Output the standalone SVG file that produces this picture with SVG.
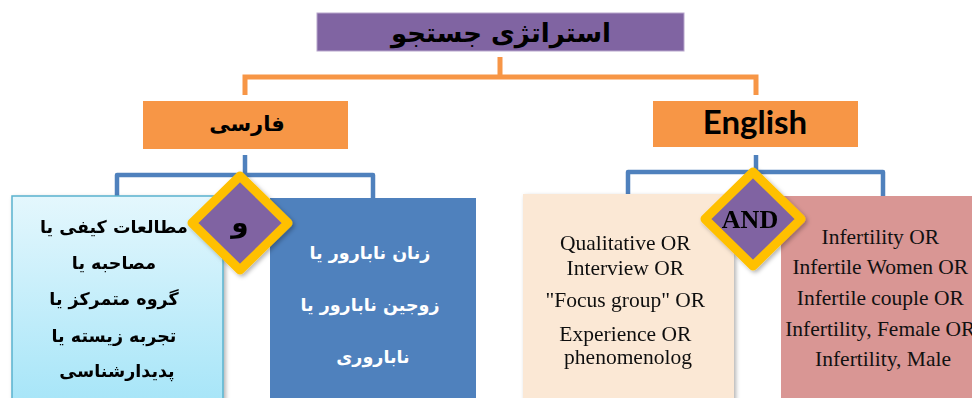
<svg xmlns="http://www.w3.org/2000/svg" width="972" height="398" viewBox="0 0 972 398">
<style>
.ar{font-family:"DejaVu Sans","Noto Sans",sans-serif;font-weight:bold;text-anchor:middle}
.en{font-family:"Liberation Serif","Times New Roman",serif;text-anchor:middle;fill:#111}
.orange{fill:none;stroke:#F79646;stroke-width:5}
.blue{fill:none;stroke:#4F81BD;stroke-width:4.5;stroke-linejoin:round}
.dia{fill:#8064A2;stroke:#FFC000;stroke-width:9;stroke-linejoin:round}
</style>
<defs>
<linearGradient id="lb" x1="0" y1="0" x2="0" y2="1">
<stop offset="0" stop-color="#E4F7FD"/>
<stop offset="1" stop-color="#A6E5F8"/>
</linearGradient>
<filter id="sh" x="-20%" y="-20%" width="140%" height="140%">
<feDropShadow dx="2" dy="2" stdDeviation="2" flood-color="#000" flood-opacity="0.3"/>
</filter>
</defs>
<g id="connectors">
<path class="orange" d="M500 57V77M245 95V77H756V95"/>
<path class="blue" d="M245 155V175M117 198V175H373V198"/>
<path class="blue" d="M756 155V172M628 196V172H883V196"/>
</g>
<g id="title">
<rect x="317" y="13" width="367" height="38" fill="#8064A2" stroke="#B7A6CC" stroke-width="1"/>
<text class="ar" x="501" y="42" font-size="26" fill="#000">استراتژی جستجو</text>
</g>
<g id="farsi">
<rect x="143" y="101" width="205" height="48" fill="#F79646"/>
<text class="ar" x="247" y="131" font-size="21" fill="#000">فارسی</text>
</g>
<g id="english">
<rect x="653" y="101" width="205" height="46" fill="#F79646"/>
<text x="755" y="134" font-family="Lato,'Open Sans',sans-serif" font-weight="bold" font-size="33" text-anchor="middle" fill="#000">English</text>
</g>
<g id="fa-qual" filter="url(#sh)">
<rect x="12" y="196" width="211" height="210" fill="url(#lb)" stroke="#5AB3CE" stroke-width="1.5"/>
<text class="ar" font-size="17.5" fill="#000">
<tspan x="117" y="233">مطالعات کیفی یا</tspan>
<tspan x="117" y="269">مصاحبه یا</tspan>
<tspan x="117" y="305">گروه متمرکز یا</tspan>
<tspan x="117" y="342">تجربه زیسته یا</tspan>
<tspan x="117" y="377">پدیدارشناسی</tspan>
</text>
</g>
<g id="fa-infert">
<rect x="270" y="198" width="206" height="210" fill="#4F81BD"/>
<text class="ar" font-size="17.5" fill="#fff">
<tspan x="373" y="259">زنان نابارور یا</tspan>
<tspan x="373" y="311">زوجین نابارور یا</tspan>
<tspan x="373" y="363">ناباروری</tspan>
</text>
</g>
<g id="en-qual" filter="url(#sh)">
<rect x="523" y="194" width="211" height="214" fill="#FBE8D5"/>
<text class="en" font-size="21.5">
<tspan x="628" y="250">Qualitative OR</tspan>
<tspan x="628" y="275">Interview OR</tspan>
<tspan x="628" y="307">"Focus group" OR</tspan>
<tspan x="628" y="341">Experience OR</tspan>
<tspan x="628" y="364">phenomenolog</tspan>
</text>
</g>
<g id="en-infert">
<rect x="781" y="196" width="210" height="212" fill="#D99694"/>
<text class="en" font-size="21.5">
<tspan x="883" y="244">Infertility OR</tspan>
<tspan x="883" y="274">Infertile Women OR</tspan>
<tspan x="883" y="305">Infertile couple OR</tspan>
<tspan x="883" y="336">Infertility, Female OR</tspan>
<tspan x="883" y="366">Infertility, Male</tspan>
</text>
</g>
<g id="and-fa" filter="url(#sh)">
<polygon class="dia" points="240,176 288,223 240,270 192,223"/>
<text class="ar" x="240" y="232" font-size="28" fill="#000">و</text>
</g>
<g id="and-en" filter="url(#sh)">
<polygon class="dia" points="753,172 801,219 753,266 705,219"/>
<text x="750" y="228" font-family="'Liberation Serif',serif" font-weight="bold" font-size="26" text-anchor="middle" fill="#000">AND</text>
</g>
</svg>
